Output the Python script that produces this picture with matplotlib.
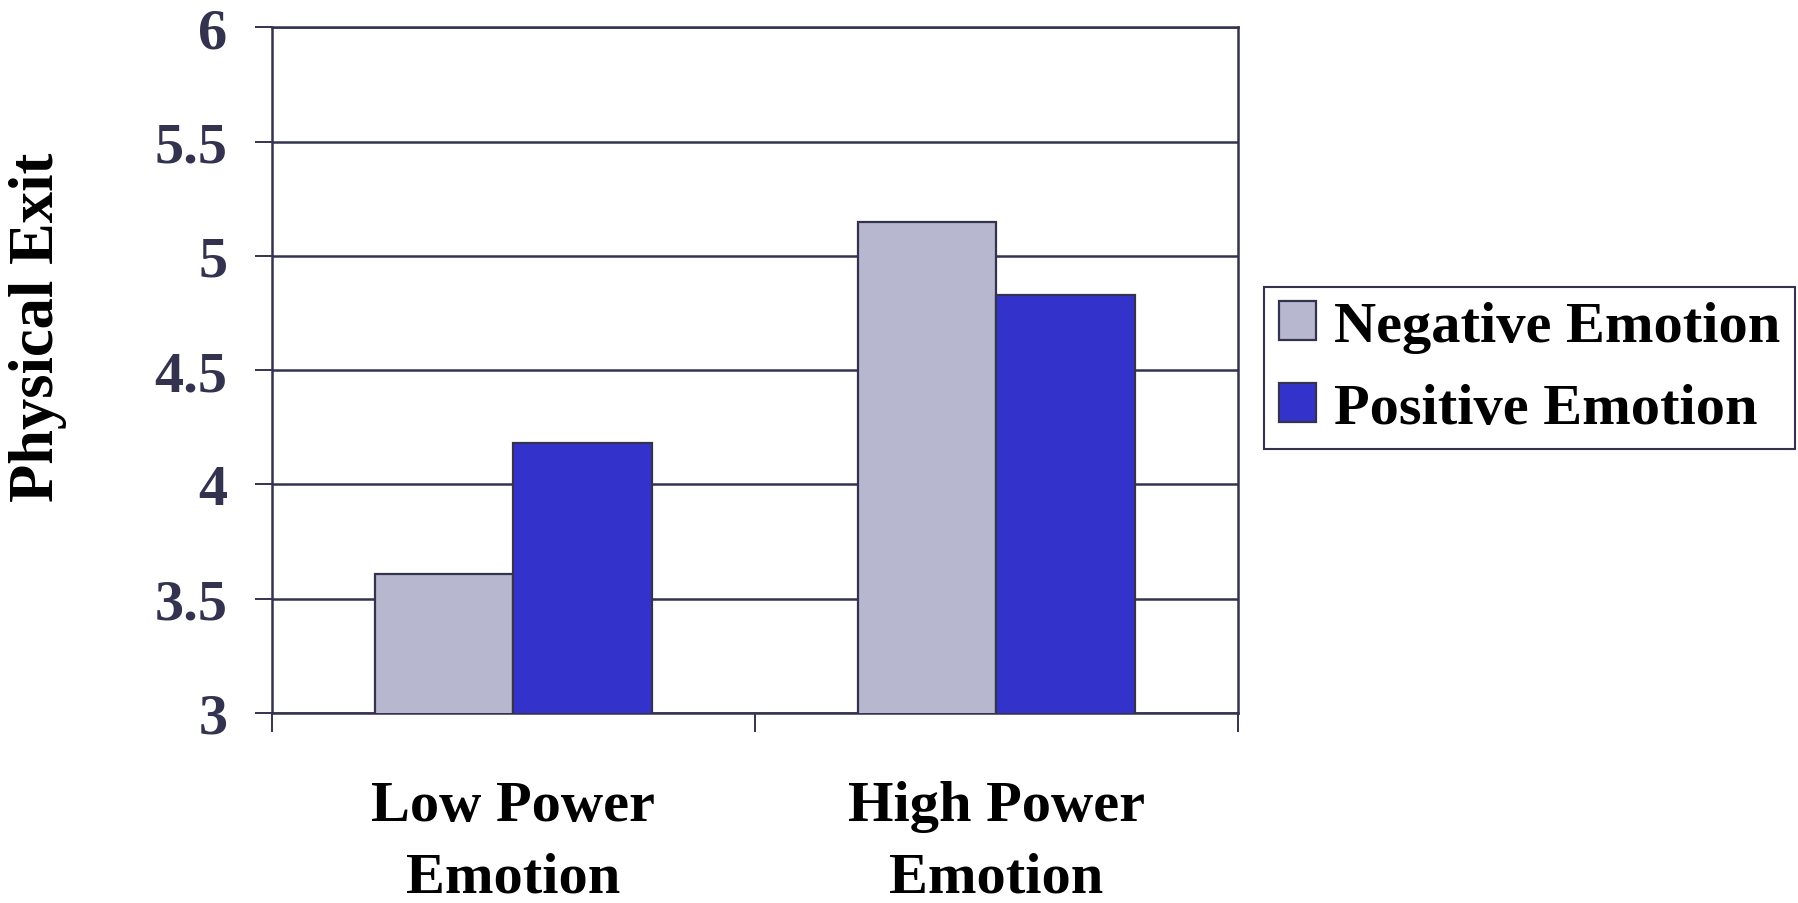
import matplotlib
matplotlib.use("Agg")
import matplotlib.pyplot as plt
import numpy as np

categories = ["Low Power\nEmotion", "High Power\nEmotion"]
series_names = ["Negative Emotion", "Positive Emotion"]
negative = [3.61, 5.15]
positive = [4.18, 4.83]
yticks = [3, 3.5, 4, 4.5, 5, 5.5, 6]
ytick_labels = ["3", "3.5", "4", "4.5", "5", "5.5", "6"]

plt.rcParams['font.family'] = ['Liberation Serif', 'DejaVu Serif']
plt.rcParams['font.weight'] = 'bold'

W, H = 1799, 904
fig = plt.figure(figsize=(W / 100, H / 100), dpi=100)
ax = fig.add_axes([272 / W, 1 - 714 / H, (1238 - 272) / W, (714 - 28.3) / H])

dark = "#333350"
neg_color = "#B7B8D0"
pos_color = "#3333CC"

x = np.arange(len(categories))
bw = 0.2875
ax.bar(x - bw / 2, negative, width=bw, bottom=0, color=neg_color, edgecolor=dark,
       linewidth=1.6, label=series_names[0], zorder=3)
ax.bar(x + bw / 2, positive, width=bw, bottom=0, color=pos_color, edgecolor=dark,
       linewidth=1.6, label=series_names[1], zorder=3)

ax.set_ylim(3, 6)
ax.set_xlim(-0.5, 1.5)
ax.set_yticks(yticks)
ax.set_yticklabels(ytick_labels, fontsize=42, fontweight='bold', color=dark)
ax.yaxis.grid(True, color=dark, linewidth=1.8, zorder=1)
ax.set_axisbelow(True)

ax.set_xticks(x)
ax.set_xticklabels(categories, fontsize=42, fontweight='bold', color='black', linespacing=1.5)
ax.set_xticks([-0.5, 0.5, 1.5], minor=True)
ax.tick_params(axis='x', which='major', length=0, pad=48)
ax.tick_params(axis='x', which='minor', length=14, width=1.4, color=dark, direction='out')
ax.tick_params(axis='y', which='major', length=12, width=1.4, color=dark, pad=20)

for s in ax.spines.values():
    s.set_color(dark)
    s.set_linewidth(1.8)

ax.set_ylabel("Physical Exit", fontsize=45, fontweight='bold', color='black', va='center')
ax.yaxis.set_label_coords(-0.242, 0.564)

leg = fig.legend(loc='center left', bbox_to_anchor=(1264 / W, 1 - 369 / H),
                 prop={'weight': 'bold', 'size': 42},
                 frameon=True, fancybox=False, shadow=False, framealpha=1,
                 handlelength=0.65, handleheight=0.65, handletextpad=0.3,
                 borderpad=0.25, labelspacing=0.5, borderaxespad=0)
leg.get_frame().set_edgecolor(dark)
leg.get_frame().set_linewidth(1.5)

fig.savefig("out.png", dpi=100)
